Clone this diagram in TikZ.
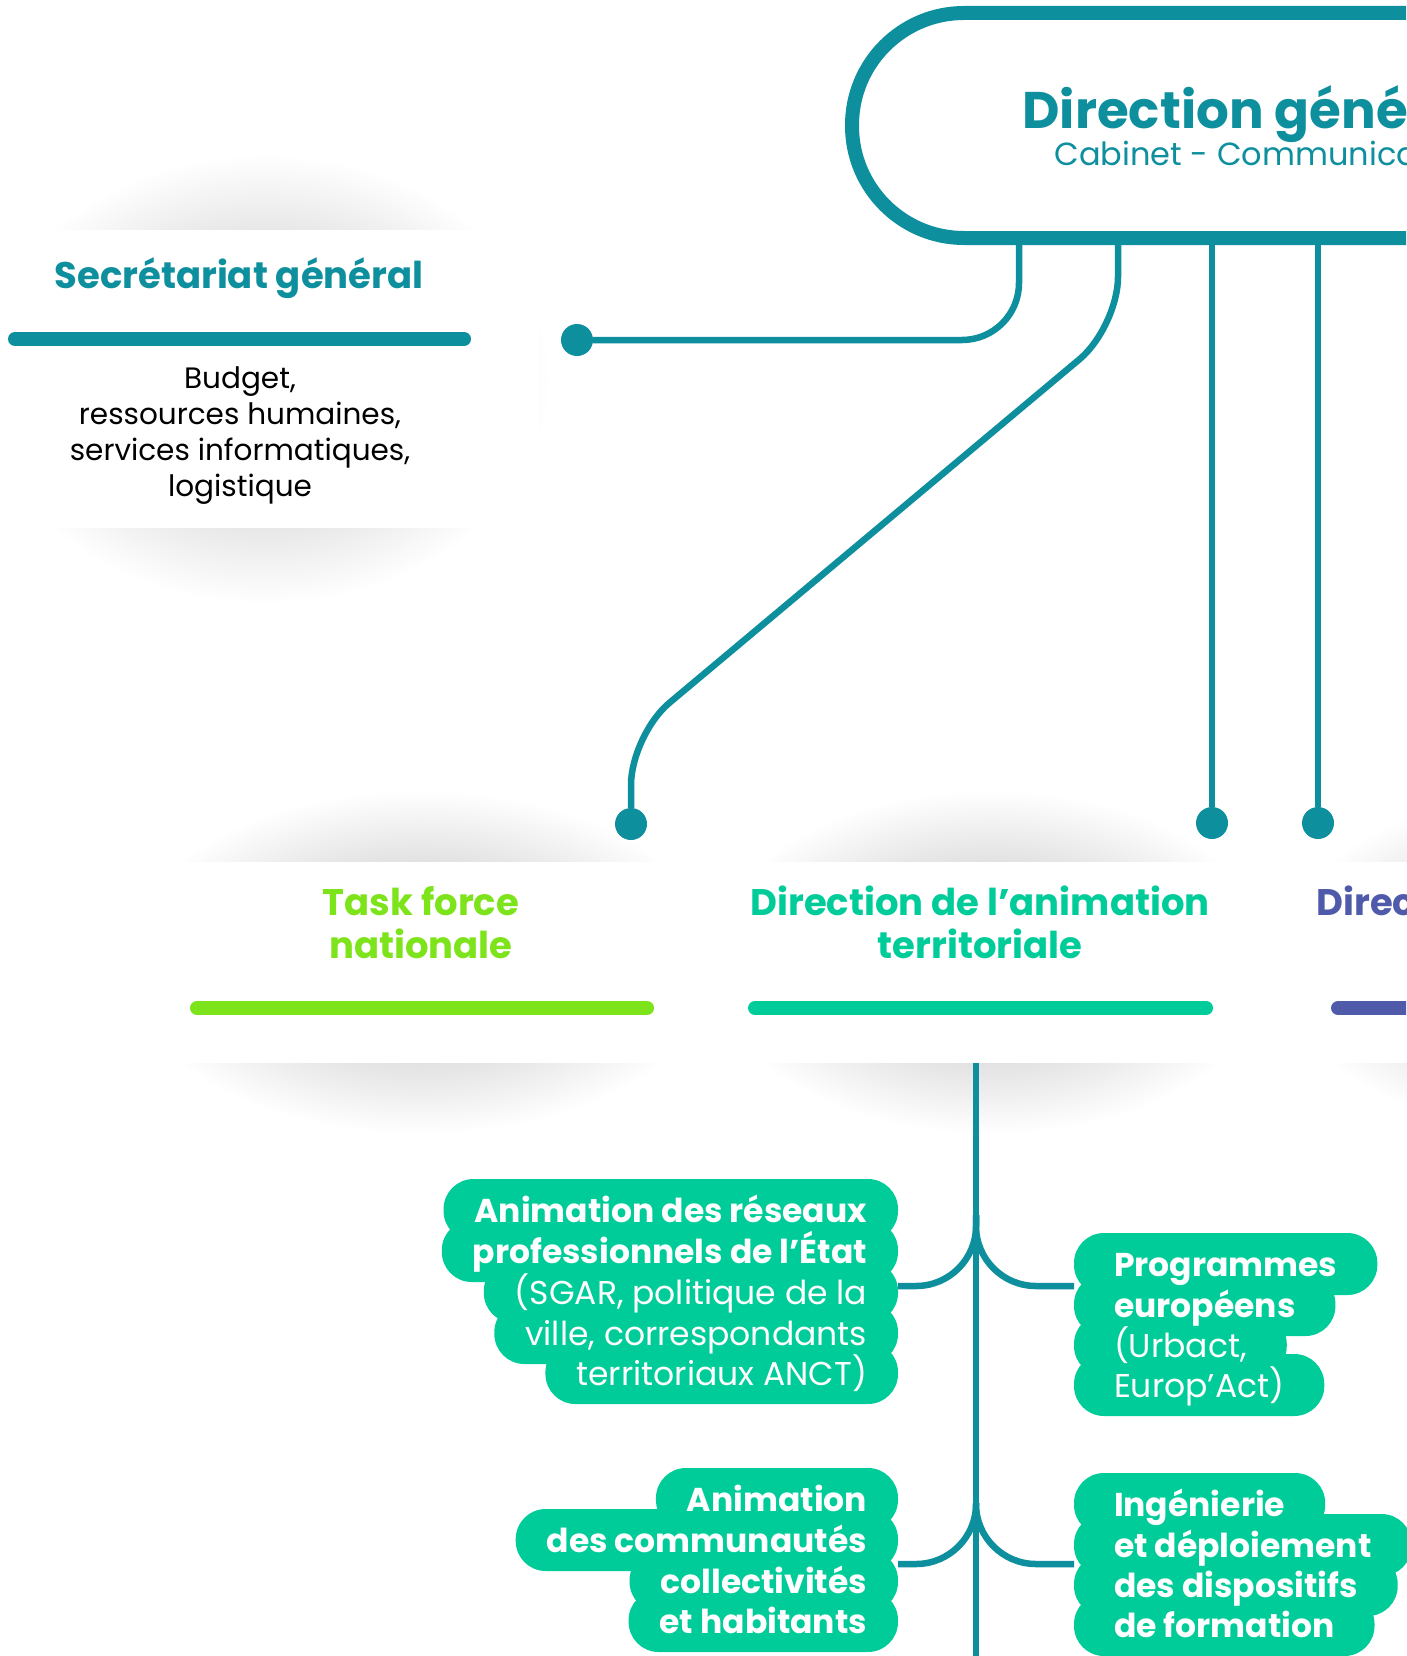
\documentclass[tikz,border=0pt]{standalone}
\usepackage{fontspec}
\setmainfont{Poppins}
\usetikzlibrary{positioning,calc}
\definecolor{ancteal}{RGB}{14,143,158}
\definecolor{anclime}{RGB}{125,227,26}
\definecolor{ancgreen}{RGB}{0,204,153}
\definecolor{ancpurple}{RGB}{79,90,170}
\pgfdeclarelayer{shadow}
\pgfdeclarelayer{links}
\pgfdeclarelayer{pills}
\pgfsetlayers{shadow,links,pills,main}
\pgfdeclareradialshading{cardshade}{\pgfpoint{0bp}{0bp}}{color(0bp)=(black!16); color(14bp)=(black!12); color(25bp)=(white); color(50bp)=(white)}

\begin{document}
\begin{tikzpicture}[
		x=1pt, y=-1pt,
		card/.style={fill=white, inner sep=0pt, outer sep=0pt},
		blob/.style={shading=cardshade},
		link/.style={draw=ancteal, line width=6.5pt},
		dot/.style={circle, fill=ancteal, minimum size=32pt, inner sep=0pt},
		bar/.style={line width=14pt, line cap=round},
		head/.style={font=\fontsize{37}{43}\selectfont\bfseries, align=center},
		pill/.style={text=white, minimum height=62pt, text height=24pt, text depth=0pt, inner xsep=31pt, outer sep=0pt, font=\fontsize{33}{41}\selectfont},
		pillb/.style={pill, font=\fontsize{33}{41}\selectfont\bfseries},
		pillr/.style={pill, inner xsep=40pt},
		pillrb/.style={pillb, inner xsep=40pt}
		]
		\useasboundingbox (0,0) rectangle (1406,1656);
		\clip (0,0) rectangle (1406,1656);
		
		% cards and their shadows
		\begin{pgfonlayer}{shadow}
			\path[blob] (265,379) ellipse [x radius=285pt, y radius=225pt];
			\path[blob] (421,962) ellipse [x radius=300pt, y radius=172pt];
			\path[blob] (991,962) ellipse [x radius=285pt, y radius=172pt];
			\path[blob] (1560,962) ellipse [x radius=285pt, y radius=172pt];
			\node[card, minimum width=539pt, minimum height=298pt, anchor=north west] (sg) at (0,230) {};
			\node[card, minimum width=592pt, minimum height=201pt, anchor=north west] (tf) at (125,862) {};
			\node[card, minimum width=548pt, minimum height=201pt, anchor=north west] (dat) at (717,862) {};
			\node[card, minimum width=548pt, minimum height=201pt, anchor=north west] (dp) at (1265,862) {};
		\end{pgfonlayer}
		
		% top box
		\node[draw=ancteal, line width=14pt, rounded corners=112pt, minimum width=900pt, minimum height=225pt, inner sep=0pt, outer sep=0pt, anchor=west] (dg) at (852,125.5) {};
		\node[font=\fontsize{51.5}{56}\selectfont\bfseries, text=ancteal, anchor=base west] (dgtitle) at (1019,129) {Direction générale};
		\node[font=\fontsize{32}{40}\selectfont, text=ancteal, anchor=base west] (dgsub) at (1051,166) {Cabinet - Communication};
		
		% Secretariat
		\node[font=\fontsize{37}{43}\selectfont\bfseries, text=ancteal, anchor=base] (sgtitle) at (239,288) {Secrétariat général};
		\draw[bar, ancteal] (15,339) -- (464,339);
		\node[font=\fontsize{29.5}{36}\selectfont, align=center, anchor=base] (sgtext) at (240,496) {Budget,\\ressources humaines,\\services informatiques,\\logistique};
		
		% directions
		\node[head, text=anclime, anchor=base] (tftitle) at (421,958) {Task force\\nationale};
		\draw[bar, anclime] (197,1008) -- (647,1008);
		\node[head, text=ancgreen, anchor=base] (dattitle) at (980,958) {Direction de l’animation\\territoriale};
		\draw[bar, ancgreen] (755,1008) -- (1206,1008);
		\node[head, text=ancpurple, anchor=base west] (dptitle) at (1313,915) {Direction};
		\draw[bar, ancpurple] (1338,1008) -- (1800,1008);
		
		% dots
		\node[dot] (sgdot) at (577,340) {};
		\node[dot] (tfdot) at (631,824) {};
		\node[dot] (datdot) at (1212,823) {};
		\node[dot] (dpdot) at (1318,823) {};
		
		% boxes of the animation territoriale
		\node[pillb, anchor=east] (ar1) at (898,1210) {Animation des réseaux};
		\node[pillb, anchor=east] (ar2) at (898,1251) {professionnels de l’État};
		\node[pill, anchor=east] (ar3) at (898,1292) {(SGAR, politique de la};
		\node[pill, anchor=east] (ar4) at (898,1333) {ville, correspondants};
		\node[pill, anchor=east] (ar5) at (898,1373) {territoriaux ANCT)};
		
		\node[pillrb, anchor=west] (pe1) at (1074,1264) {Programmes};
		\node[pillrb, anchor=west] (pe2) at (1074,1305) {européens};
		\node[pillr, anchor=west] (pe3) at (1074,1345) {(Urbact,};
		\node[pillr, anchor=west] (pe4) at (1074,1385) {Europ’Act)};
		
		\node[pillb, anchor=east] (ac1) at (898,1499) {Animation};
		\node[pillb, anchor=east] (ac2) at (898,1540) {des communautés};
		\node[pillb, anchor=east] (ac3) at (898,1581) {collectivités};
		\node[pillb, anchor=east] (ac4) at (898,1621) {et habitants};
		
		\node[pillrb, anchor=west] (id1) at (1074,1504) {Ingénierie};
		\node[pillrb, anchor=west] (id2) at (1074,1545) {et déploiement};
		\node[pillrb, anchor=west] (id3) at (1074,1585) {des dispositifs};
		\node[pillrb, anchor=west] (id4) at (1074,1625) {de formation};
		
		\begin{pgfonlayer}{pills}
			\foreach \p in {ar1,ar2,ar3,ar4,ar5,pe1,pe2,pe3,pe4,ac1,ac2,ac3,ac4,id1,id2,id3,id4}
			\fill[ancgreen, rounded corners=30pt] (\p.south west) rectangle (\p.north east);
		\end{pgfonlayer}
		
		\coordinate (trunk) at (976,1063);
		\coordinate (trunkend) at (976,1700);
		
		% Draw the links
		\begin{pgfonlayer}{links}
			\draw[link, rounded corners=57pt] ([xshift=167pt]dg.south west) |- (sgdot);
			\draw[link, rounded corners=50pt] ([xshift=266pt]dg.south west) -- ++(0,89) -- ($(tfdot)+(0,-89)$) -- (tfdot);
			\draw[link] (datdot |- dg.south) -- (datdot);
			\draw[link] (dpdot |- dg.south) -- (dpdot);
			\draw[link] (trunk) -- (trunkend);
			\draw[link, rounded corners=60pt] ([yshift=6pt]ar3.east) -| ($(trunk)+(0,152)$);
			\draw[link, rounded corners=60pt] ([yshift=-22pt]pe1.west) -| ($(trunk)+(0,152)$);
			\draw[link, rounded corners=60pt] ([yshift=-24pt]ac2.east) -| ($(trunk)+(0,440)$);
			\draw[link, rounded corners=60pt] ([yshift=-19pt]id2.west) -| ($(trunk)+(0,440)$);
		\end{pgfonlayer}
	\end{tikzpicture}
\end{document}
